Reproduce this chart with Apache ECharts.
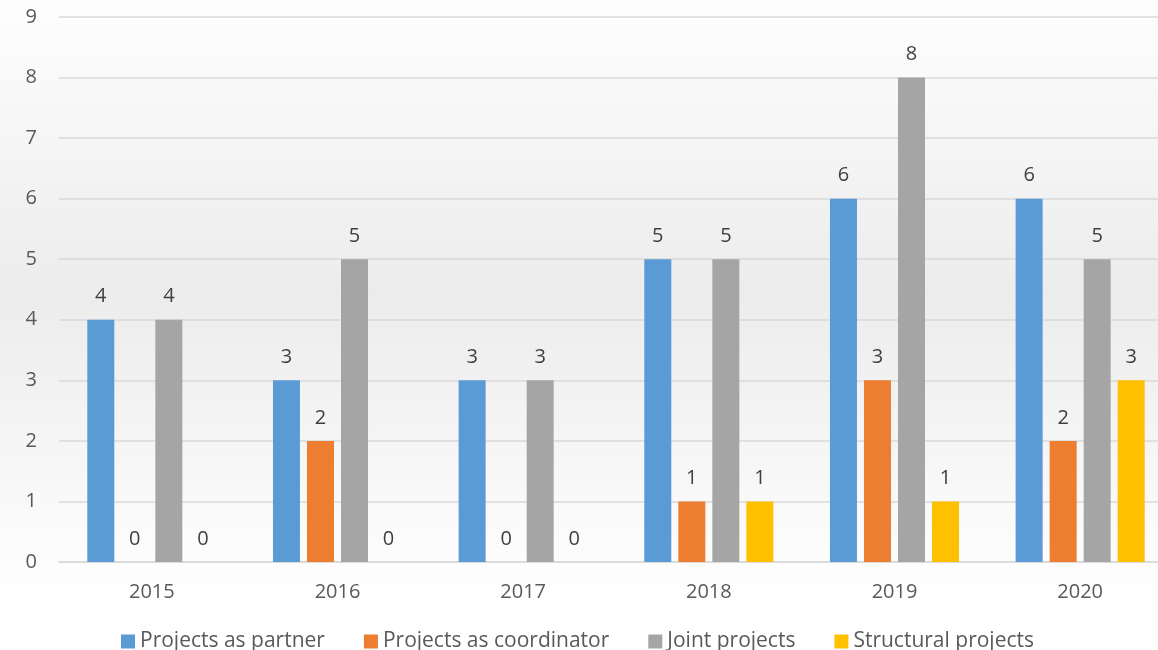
<!DOCTYPE html>
<html>
<head>
<meta charset="utf-8">
<script src="https://cdn.jsdelivr.net/npm/echarts@6/dist/echarts.min.js"></script>
<style>
  html, body { margin: 0; padding: 0; background: #fff; overflow: hidden; }
  /* the plot area runs past the right edge of the 1158px picture */
  #chart { width: 1173px; height: 650px; }
</style>
</head>
<body>
<div id="chart"></div>
<script>
const years = ['2015', '2016', '2017', '2018', '2019', '2020']
const asPartner = [4, 3, 3, 5, 6, 6]
const asCoordinator = [0, 2, 0, 1, 3, 2]
const joint = [4, 5, 3, 5, 8, 5]
const structural = [0, 0, 0, 1, 1, 3]

const fontFamily = '"Open Sans", "Noto Sans", sans-serif'
const textColor = '#595959'

function barSeries(name, data, color) {
  return {
    name,
    type: 'bar',
    data,
    barWidth: 27,
    barGap: '26%',
    itemStyle: { color },
    label: {
      show: true,
      position: 'top',
      distance: 13,
      color: '#404040',
      fontSize: 20,
      fontFamily
    }
  }
}

const chart = echarts.init(document.getElementById('chart'))
chart.setOption({
  animation: false,
  backgroundColor: {
    type: 'linear', x: 0, y: 0, x2: 0, y2: 1,
    colorStops: [
      { offset: 0, color: '#fefefe' },
      { offset: 0.45, color: '#ececec' },
      { offset: 0.9, color: '#fefefe' },
      { offset: 1, color: '#ffffff' }
    ]
  },
  grid: { left: 59, right: 0, top: 17, bottom: 88 },
  legend: {
    top: 626,
    left: 116,
    itemWidth: 14,
    itemHeight: 14,
    itemGap: 39,
    icon: 'rect',
    textStyle: { color: textColor, fontSize: 21, fontFamily },
    data: ['Projects as partner', 'Projects as coordinator', 'Joint projects', 'Structural projects']
  },
  xAxis: {
    type: 'category',
    data: years,
    axisTick: { show: false },
    axisLine: { lineStyle: { color: '#d9d9d9', width: 1.5 } },
    axisLabel: { color: textColor, fontSize: 20, fontFamily, margin: 20 }
  },
  yAxis: {
    type: 'value',
    min: 0,
    max: 9,
    interval: 1,
    axisLine: { show: false },
    axisTick: { show: false },
    splitLine: { lineStyle: { color: '#d9d9d9', width: 1.5 } },
    axisLabel: { color: textColor, fontSize: 20, fontFamily, margin: 22 }
  },
  series: [
    barSeries('Projects as partner', asPartner, '#5b9bd5'),
    barSeries('Projects as coordinator', asCoordinator, '#ed7d31'),
    barSeries('Joint projects', joint, '#a5a5a5'),
    barSeries('Structural projects', structural, '#ffc000')
  ]
})
</script>
</body>
</html>
